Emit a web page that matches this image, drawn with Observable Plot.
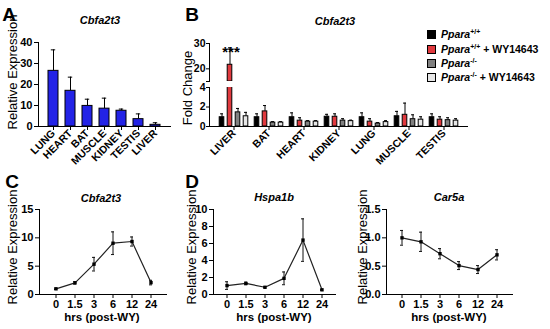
<!DOCTYPE html>
<html>
<head>
<meta charset="utf-8">
<script src="https://cdn.jsdelivr.net/npm/d3@7"></script>
<script src="https://cdn.jsdelivr.net/npm/@observablehq/plot@0.6"></script>
<style>
  html, body { margin: 0; padding: 0; background: #fff; }
  #fig { position: relative; width: 550px; height: 329px; overflow: hidden; font-family: "Liberation Sans", Arial, sans-serif; color: #000; }
  #fig svg { font-family: "Liberation Sans", Arial, sans-serif !important; font-size: 11px !important; font-weight: bold !important; background: none !important; overflow: visible !important; color: #000 !important; display: block; }
  #fig svg text { fill: #000 !important; font-weight: bold !important; }
  #fig .rotx svg g[aria-label="x-axis tick label"] text { font-size: 10.5px !important; }
  #fig .smally svg g[aria-label="y-axis tick label"] text { font-size: 10.5px !important; }
  .p { position: absolute; }
  .t { position: absolute; white-space: nowrap; transform: translate(-50%, -50%); line-height: 1; }
  .rot { transform: translate(-50%, -50%) rotate(-90deg); }
  .letter { font-size: 19px; font-weight: bold; }
  .title { font-size: 11px; font-weight: bold; font-style: italic; }
  .ylab { font-size: 13px; }
  .xlab { font-size: 11.5px; font-weight: bold; }
  .leg { position: absolute; left: 427px; font-size: 10.5px; font-weight: bold; white-space: nowrap; display: flex; align-items: center; transform: translateY(-50%); }
  .sw { width: 7px; height: 7px; border: 1px solid #000; margin-right: 5px; }
  .leg sup { font-size: 7px; line-height: 0; }
</style>
</head>
<body>
<div id="fig"></div>
<script>
// ---------- Panel A data ----------
const tissuesA = ["LUNG", "HEART", "BAT", "MUSCLE", "KIDNEY", "TESTIS", "LIVER"];
const meanA = [26.5, 17, 9.8, 8.5, 7.5, 3.5, 0.8];
const semA = [10, 6.5, 3.2, 5, 0.8, 2.5, 1.0];
const ticksA = [0, 10, 20, 30, 40];

// ---------- Panel B data ----------
const tissuesB = ["LIVER", "BAT", "HEART", "KIDNEY", "LUNG", "MUSCLE", "TESTIS"];
const groupsB = ["Ppara+/+", "Ppara+/+ + WY14643", "Ppara-/-", "Ppara-/- + WY14643"];
const meanWT   = [0.95, 0.95, 0.95, 1.0, 0.95, 1.05, 0.95];
const semWT    = [0.35, 0.35, 0.45, 0.25, 0.45, 0.5, 0.35];
const meanWTWY = [21.6, 1.55, 0.6, 1.0, 0.5, 1.2, 0.7];
const semWTWY  = [6.7, 0.6, 0.3, 0.3, 0.3, 1.2, 0.3];
const meanKO   = [1.45, 0.4, 0.5, 0.6, 0.3, 0.75, 0.65];
const semKO    = [0.4, 0.1, 0.1, 0.2, 0.1, 0.45, 0.25];
const meanKOWY = [1.05, 0.4, 0.5, 0.55, 0.45, 0.7, 0.6];
const semKOWY  = [0.4, 0.1, 0.1, 0.1, 0.15, 0.3, 0.2];
const upperDomainB = [15, 30];
const upperTicksB = [15, 20, 30];
const lowerDomainB = [0, 4];
const lowerTicksB = [0, 2, 4];
const sigB = [{tissue: "LIVER", label: "***"}];

// ---------- Panels C, D, E data ----------
const hours = ["0", "1.5", "3", "6", "12", "24"];
const meanC = [1.0, 2.05, 5.35, 9.05, 9.35, 2.1];
const semC  = [0.12, 0.2, 1.2, 2.0, 0.8, 0.4];
const meanD = [1.05, 1.3, 0.85, 1.9, 6.4, 0.55];
const semD  = [0.45, 0.15, 0.06, 0.75, 2.5, 0.06];
const meanE = [1.0, 0.93, 0.72, 0.51, 0.44, 0.70];
const semE  = [0.13, 0.17, 0.09, 0.07, 0.07, 0.09];
const ticksC = [0, 5, 10, 15];
const ticksD = [0, 2, 4, 6, 8, 10];
const ticksE = [0, 0.5, 1.0, 1.5];

// ---------- styles ----------
const colors = {"Ppara+/+": "#000000", "Ppara+/+ + WY14643": "#e0393e", "Ppara-/-": "#808080", "Ppara-/- + WY14643": "#e6e6e6"};
const offsets = [-12, -4, 4, 12];

const fig = document.getElementById("fig");
function place(svg, left, top, cls) {
  const d = document.createElement("div");
  d.className = "p " + (cls || ""); d.style.left = left + "px"; d.style.top = top + "px";
  d.appendChild(svg); fig.appendChild(d);
}
function text(str, x, y, cls, html) {
  const d = document.createElement("div");
  d.className = "t " + cls;
  d.style.left = x + "px"; d.style.top = y + "px";
  if (html) d.innerHTML = str; else d.textContent = str;
  fig.appendChild(d);
}

// ---------- Panel A ----------
const dataA = tissuesA.map((t, i) => ({tissue: t, v: meanA[i], e: meanA[i] + semA[i]}));
place(Plot.plot({
  width: 190, height: 165,
  marginLeft: 38, marginRight: 20, marginTop: 42, marginBottom: 39,
  x: {type: "band", domain: tissuesA, paddingInner: 0.4, paddingOuter: 0.45, line: true, tickSize: 4, tickPadding: 1, tickRotate: -45, label: null},
  y: {domain: [0, 40], ticks: ticksA, line: true, tickSize: 4, tickPadding: 2, label: null},
  marks: [
    Plot.ruleX(dataA, {x: "tissue", y1: "v", y2: "e", stroke: "#000"}),
    Plot.tickY(dataA, {x: "tissue", y: "e", stroke: "#000", insetLeft: 2.8, insetRight: 2.8}),
    Plot.barY(dataA, {x: "tissue", y: "v", fill: "#2323e6", stroke: "#000", strokeWidth: 1})
  ]
}), 0, 0, "rotx");

// ---------- Panel B ----------
const meansB = [meanWT, meanWTWY, meanKO, meanKOWY];
const semsB = [semWT, semWTWY, semKO, semKOWY];
const seriesB = groupsB.map((g, gi) => tissuesB.map((t, i) => ({tissue: t, group: g, v: meansB[gi][i], e: meansB[gi][i] + semsB[gi][i]})));
const xB = {type: "band", domain: tissuesB, paddingInner: 0, paddingOuter: 0.1};
const barInset = 15.2, capInset = 16;

function barMarks(lo, clip) {
  return seriesB.flatMap((data, gi) => {
    const d = data.filter(r => r.e > lo);
    const g = groupsB[gi];
    return [
      Plot.ruleX(d, {x: "tissue", y1: r => Math.max(r.v, lo), y2: "e", dx: offsets[gi], stroke: "#000", clip}),
      Plot.tickY(d, {x: "tissue", y: "e", dx: offsets[gi], stroke: "#000", insetLeft: capInset, insetRight: capInset, clip}),
      Plot.barY(data.filter(r => r.v > lo), {x: "tissue", y1: lo, y2: "v", dx: offsets[gi], fill: colors[g], stroke: "#000", strokeWidth: 1, insetLeft: barInset, insetRight: barInset, clip})
    ];
  });
}

place(Plot.plot({
  width: 290, height: 84,
  marginLeft: 24, marginRight: 8, marginTop: 43, marginBottom: 3,
  x: {...xB, axis: null},
  y: {domain: upperDomainB, ticks: upperTicksB, tickFormat: d => d === upperDomainB[0] ? "" : d, line: true, tickSize: 3, tickPadding: 1, label: null},
  marks: [
    ...barMarks(upperDomainB[0], true),
    Plot.text(sigB, {x: "tissue", text: "label", frameAnchor: "top", dx: -3, dy: 3, fontSize: 15, fontWeight: "bold"})
  ]
}), 185, 0, "smally");

place(Plot.plot({
  width: 290, height: 81,
  marginLeft: 24, marginRight: 8, marginTop: 3, marginBottom: 39,
  x: {...xB, line: true, tickSize: 4, tickPadding: 1, tickRotate: -45, label: null},
  y: {domain: lowerDomainB, ticks: lowerTicksB, tickFormat: d => d, line: true, tickSize: 3, tickPadding: 1, label: null},
  marks: barMarks(0, true)
}), 185, 84, "rotx smally");

// ---------- Panels C, D, E ----------
function timePlot(mean, sem, yDomain, ticks, fmt, w, ml, mr) {
  const data = hours.map((h, i) => ({h, v: mean[i], lo: mean[i] - sem[i], hi: mean[i] + sem[i]}));
  return Plot.plot({
    width: w, height: 164,
    marginLeft: ml, marginRight: mr, marginTop: 44, marginBottom: 35,
    x: {type: "band", domain: hours, paddingInner: 0, paddingOuter: 0.18, line: true, tickSize: 4, tickPadding: 2, label: null},
    y: {domain: yDomain, ticks, tickFormat: fmt, line: true, tickSize: 4, tickPadding: 2, label: null},
    marks: [
      Plot.ruleX(data, {x: "h", y1: "lo", y2: "hi", stroke: "#111"}),
      Plot.tickY(data, {x: "h", y: "lo", stroke: "#111", insetLeft: 8, insetRight: 8}),
      Plot.tickY(data, {x: "h", y: "hi", stroke: "#111", insetLeft: 8, insetRight: 8}),
      Plot.line(data, {x: "h", y: "v", stroke: "#222", strokeWidth: 1.2}),
      Plot.dot(data, {x: "h", y: "v", symbol: "square", r: 1.9, fill: "#000"})
    ]
  });
}
place(timePlot(meanC, semC, [0, 15], ticksC, d => d, 185, 39, 19), 0, 165);
place(timePlot(meanD, semD, [0, 10], ticksD, d => d, 165, 28, 15), 185, 165);
place(timePlot(meanE, semE, [0, 1.5], ticksE, d3.format(".1f"), 195, 31, 38), 355, 165);

// ---------- Text ----------
text("A", 9, 14, "letter");
text("B", 192, 14, "letter");
text("C", 12, 181, "letter");
text("D", 192, 181, "letter");

text("Cbfa2t3", 100, 20, "title");
text("Cbfa2t3", 335, 21, "title");
text("Cbfa2t3", 101, 198, "title");
text("Hspa1b", 274, 197, "title");
text("Car5a", 449, 197, "title");

text("Relative Expression", 12, 72, "ylab rot");
text("Fold Change", 187, 88, "ylab rot");
text("Relative Expression", 12, 247, "ylab rot");
text("Relative Expression", 191, 247, "ylab rot");
text("Relative Expression", 362, 247, "ylab rot");

text("hrs (post-WY)", 102, 318, "xlab");
text("hrs (post-WY)", 274, 318, "xlab");
text("hrs (post-WY)", 449, 318, "xlab");

// ---------- Legend ----------
const legRows = [
  {g: groupsB[0], html: "<i>Ppara</i><sup>+/+</sup>"},
  {g: groupsB[1], html: "<i>Ppara</i><sup>+/+</sup>&nbsp;+ WY14643"},
  {g: groupsB[2], html: "<i>Ppara</i><sup>-/-</sup>"},
  {g: groupsB[3], html: "<i>Ppara</i><sup>-/-</sup>&nbsp;+ WY14643"}
];
const legY = [34, 49, 63, 77];
legRows.forEach((r, i) => {
  const d = document.createElement("div");
  d.className = "leg"; d.style.top = legY[i] + "px";
  d.innerHTML = `<span class="sw" style="background:${colors[r.g]}"></span><span>${r.html}</span>`;
  fig.appendChild(d);
});
</script>
</body>
</html>
